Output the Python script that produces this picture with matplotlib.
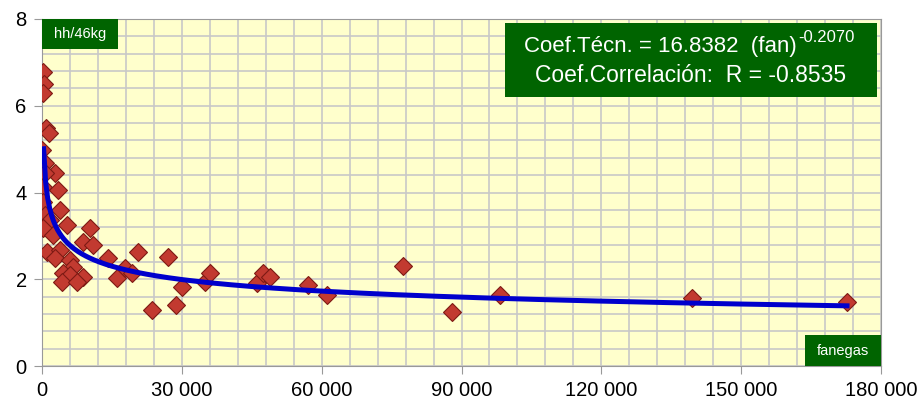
import numpy as np
import matplotlib.pyplot as plt
from matplotlib.patches import Rectangle
from matplotlib.ticker import FuncFormatter, MultipleLocator

plt.rcParams['font.family'] = ['Liberation Sans', 'DejaVu Sans']

# data (fanegas, hh/46kg)
fanegas = [300, 400, 300, 900, 1400,
           100, 600, 2800, 700, 300, 3400, 300, 3900, 600, 1700,
           5400, 300, 10300, 2400, 8800, 10900, 1000, 3900, 2800, 6000,
           6600, 4500, 6000, 4300, 8800, 7500, 14200, 16100, 17800, 19300,
           20600, 23600, 27000, 28700, 30000, 35000, 36000, 46100, 47400, 48900,
           57000, 61100, 77400, 88000, 98200, 139400, 172700]
coef_tecn = [6.77, 6.50, 6.30, 5.48, 5.37,
             4.98, 4.68, 4.45, 4.45, 4.12, 4.05, 3.78, 3.60, 3.48, 3.36,
             3.25, 3.18, 3.18, 3.02, 2.86, 2.79, 2.63, 2.67, 2.49, 2.44,
             2.28, 2.14, 2.10, 1.94, 2.05, 1.94, 2.49, 2.03, 2.26, 2.14,
             2.63, 1.29, 2.51, 1.41, 1.82, 1.94, 2.14, 1.91, 2.14, 2.05,
             1.87, 1.64, 2.30, 1.24, 1.64, 1.57, 1.47]

# trend line coefficients printed on the chart
a_coef = 16.8382
b_coef = -0.2070
r_coef = -0.8535

green = '#006400'

fig = plt.figure(figsize=(9.19, 4.0), dpi=100)
ax = fig.add_axes([0.0457, 0.085, 0.913, 0.8675])
ax.set_facecolor('#ffffcc')

ax.plot(fanegas, coef_tecn, linestyle='none', marker='D', markersize=9.5,
        markerfacecolor='#c23a30', markeredgecolor='#7d1a14', markeredgewidth=0.8,
        zorder=3)
xs = np.linspace(350, max(fanegas), 400)
ax.plot(xs, a_coef * xs ** b_coef, color='#0000cc', lw=3.6, zorder=4)

ax.set_xlim(0, 180000)
ax.set_ylim(0, 8)
ax.xaxis.set_major_locator(MultipleLocator(30000))
ax.xaxis.set_minor_locator(MultipleLocator(6000))
ax.yaxis.set_major_locator(MultipleLocator(2))
ax.yaxis.set_minor_locator(MultipleLocator(0.4))
ax.xaxis.set_major_formatter(FuncFormatter(lambda v, p: f'{int(v):,}'.replace(',', ' ')))
ax.grid(which='both', color='#c8c8c8', lw=1.2)
ax.set_axisbelow(True)
ax.tick_params(which='major', length=6, color='#999999', labelsize=14.5, pad=5)
ax.tick_params(which='minor', length=0)
for s in ax.spines.values():
    s.set_color('#999999')

# label boxes
ax.add_patch(Rectangle((0, 0.914), 0.0906, 0.086, transform=ax.transAxes,
                       facecolor=green, edgecolor='none', zorder=5))
ax.text(0.0453, 0.957, 'hh/46kg', transform=ax.transAxes, color='white',
        fontsize=10.5, ha='center', va='center', zorder=6)
ax.add_patch(Rectangle((0.909, 0), 0.091, 0.089, transform=ax.transAxes,
                       facecolor=green, edgecolor='none', zorder=5))
ax.text(0.9545, 0.044, 'fanegas', transform=ax.transAxes, color='white',
        fontsize=10.5, ha='center', va='center', zorder=6)

ax.add_patch(Rectangle((0.552, 0.775), 0.443, 0.213, transform=ax.transAxes,
                       facecolor=green, edgecolor='none', zorder=5))
ax.text(0.900, 0.922, f'Coef.Técn. = {a_coef:.4f}  (fan)',
        transform=ax.transAxes, color='white', fontsize=16, ha='right',
        va='center', zorder=6)
ax.text(0.901, 0.948, f'{b_coef:.4f}',
        transform=ax.transAxes, color='white', fontsize=12, ha='left',
        va='center', zorder=6)
ax.text(0.7735, 0.836, f'Coef.Correlación:  R = {r_coef:.4f}',
        transform=ax.transAxes, color='white', fontsize=16.5, ha='center',
        va='center', zorder=6)

fig.savefig('out.png', dpi=100)
